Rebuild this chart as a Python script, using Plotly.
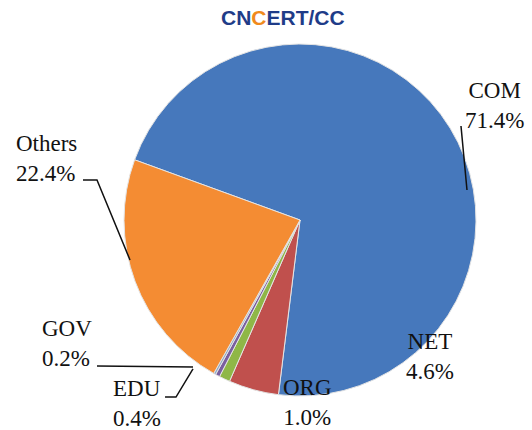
import plotly.graph_objects as go

categories = ["COM", "NET", "ORG", "EDU", "GOV", "Others"]
shares = [71.4, 4.6, 1.0, 0.4, 0.2, 22.4]
colors = ["#4678BC", "#C0504D", "#8FB747", "#7A5FA0", "#8FA9C8", "#F48C33"]

W, H = 532, 430

def px(x, y):
    return x / W, 1 - y / H

cx0, cy0 = px(124, 44)
cx1, cy1 = px(476, 396)

fig = go.Figure()
fig.add_trace(go.Pie(
    labels=categories, values=shares, sort=False, direction="clockwise",
    rotation=-70, textinfo="none", hoverinfo="skip", showlegend=False,
    marker=dict(colors=colors, line=dict(color="#e4e4e4", width=1)),
    domain=dict(x=[cx0, cx1], y=[cy1, cy0]),
))

# label block positions (pixels) and anchor
label_pos = {
    "COM": (494, 105, "center"),
    "NET": (430, 356, "center"),
    "ORG": (307, 402, "center"),
    "EDU": (111, 403, "left"),
    "GOV": (40, 343, "left"),
    "Others": (14, 158, "left"),
}
annotations = []
for cat, val in zip(categories, shares):
    x, y, al = label_pos[cat]
    ax, ay = px(x, y)
    annotations.append(dict(
        x=ax, y=ay, xref="paper", yref="paper", showarrow=False,
        xanchor=al, yanchor="middle",
        text=f"{cat}<br>{val:.1f}%", align=al,
        font=dict(family="Liberation Serif, Times New Roman, serif", size=23, color="#111111"),
    ))

# logo
lx, ly = px(283, 18)
annotations.append(dict(
    x=lx, y=ly, xref="paper", yref="paper", showarrow=False,
    xanchor="center", yanchor="middle",
    text="<b>CN<span style='color:#F08A1C'>C</span>ERT/CC</b>",
    font=dict(family="Liberation Sans, Arial", size=21, color="#1F3C88"),
))

leader_lines = [
    [(461, 126), (467, 190)],
    [(83, 180), (97, 180), (130, 260)],
    [(97, 366), (193, 367)],
    [(165, 397), (176, 397), (193, 369)],
]
shapes = []
for pts in leader_lines:
    path = "M " + " L ".join(f"{px(x, y)[0]:.4f},{px(x, y)[1]:.4f}" for x, y in pts)
    shapes.append(dict(type="path", path=path, xref="paper", yref="paper",
                       line=dict(color="#111111", width=1.5)))

fig.update_layout(
    width=W, height=H, margin=dict(l=0, r=0, t=0, b=0),
    paper_bgcolor="white", plot_bgcolor="white",
    annotations=annotations, shapes=shapes,
)
fig.write_html("out.html", config={"displayModeBar": False},
               post_script="document.body.style.margin='0px';document.body.style.overflow='hidden';")
